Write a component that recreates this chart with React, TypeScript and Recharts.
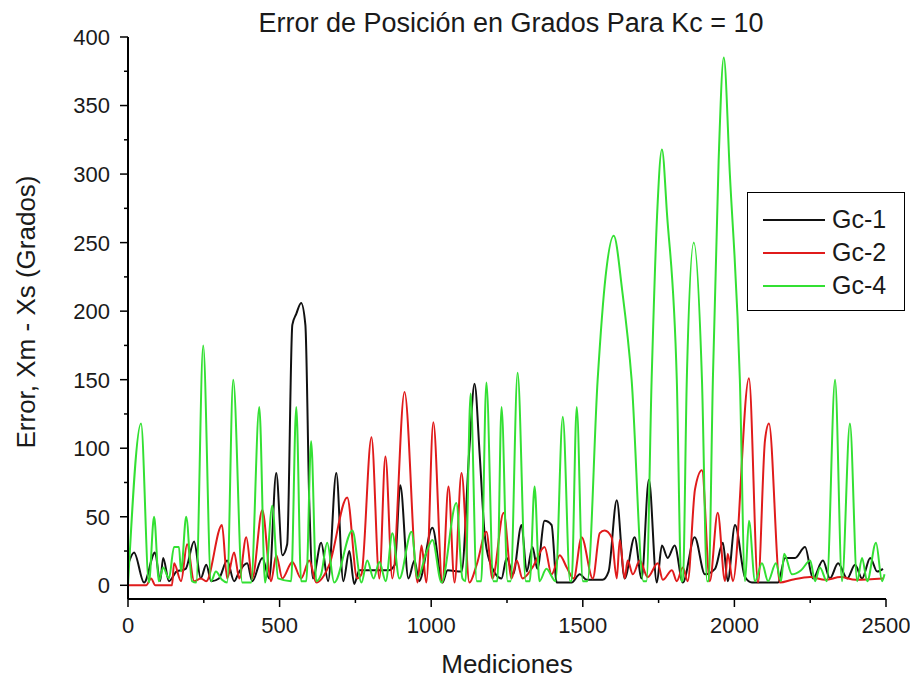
import { LineChart, Line, XAxis, YAxis, Legend, Label } from 'recharts'

// [medición, error en grados]
const gc1: [number, number][] = [
  [0, 15], [20, 24], [53, 2], [89, 24], [106, 3], [116, 20], [135, 3], [160, 10], [190, 12], [218, 32],
  [240, 5], [258, 15], [275, 3], [300, 5], [327, 18], [350, 3], [367, 10], [393, 16], [410, 3], [443, 20],
  [466, 5], [489, 82], [509, 22], [525, 30], [542, 190], [555, 198], [571, 206], [585, 190], [598, 60], [610, 5],
  [637, 31], [660, 3], [687, 82], [710, 3], [730, 25], [746, 1], [763, 11], [830, 11], [860, 11], [880, 15],
  [898, 73], [925, 5], [945, 18], [960, 3], [1004, 42], [1037, 2], [1054, 11], [1100, 10], [1126, 100], [1143, 147],
  [1160, 95], [1176, 38], [1192, 18], [1232, 5], [1249, 20], [1270, 8], [1298, 44], [1315, 10], [1334, 28], [1350, 12],
  [1374, 47], [1397, 44], [1414, 2], [1463, 2], [1490, 8], [1513, 4], [1565, 4], [1585, 10], [1612, 62], [1638, 5],
  [1671, 35], [1694, 5], [1718, 77], [1744, 2], [1761, 29], [1780, 20], [1803, 29], [1830, 2], [1869, 35], [1903, 8],
  [1936, 12], [1962, 31], [1978, 3], [2002, 44], [2035, 6], [2058, 2], [2144, 2], [2167, 20], [2200, 20], [2233, 28],
  [2259, 5], [2292, 18], [2315, 5], [2342, 16], [2372, 5], [2398, 15], [2421, 5], [2448, 20], [2471, 10], [2490, 12],
]

const gc2: [number, number][] = [
  [0, 0], [60, 0], [76, 5], [90, 0], [145, 0], [152, 16], [175, 3], [195, 30], [218, 3], [240, 5],
  [258, 3], [310, 44], [327, 5], [350, 24], [367, 5], [390, 35], [410, 5], [443, 55], [472, 3], [489, 22],
  [509, 5], [542, 17], [571, 5], [598, 18], [621, 2], [664, 15], [723, 64], [756, 5], [770, 8], [803, 108],
  [829, 5], [849, 94], [872, 5], [912, 141], [955, 2], [968, 29], [984, 2], [1007, 119], [1037, 2], [1057, 72],
  [1077, 2], [1100, 82], [1126, 2], [1150, 15], [1182, 39], [1202, 5], [1239, 53], [1265, 5], [1282, 18], [1301, 5],
  [1334, 13], [1374, 28], [1397, 8], [1424, 22], [1447, 13], [1470, 5], [1496, 35], [1533, 5], [1556, 38], [1572, 40],
  [1595, 35], [1612, 5], [1622, 33], [1638, 5], [1648, 18], [1665, 8], [1688, 18], [1714, 6], [1747, 16], [1764, 4],
  [1794, 11], [1810, 3], [1830, 13], [1846, 3], [1870, 70], [1893, 84], [1919, 3], [1945, 53], [1969, 3], [1978, 23],
  [1995, 3], [2048, 151], [2078, 2], [2101, 106], [2114, 118], [2150, 2], [2190, 4], [2250, 6], [2300, 4], [2350, 6],
  [2400, 4], [2490, 5],
]

const gc4: [number, number][] = [
  [0, 0], [43, 118], [69, 2], [86, 50], [102, 3], [116, 13], [135, 5], [152, 28], [168, 28], [175, 10],
  [192, 50], [211, 3], [225, 2], [248, 175], [274, 3], [290, 10], [310, 4], [327, 2], [347, 150], [377, 2],
  [406, 2], [433, 130], [452, 2], [476, 58], [495, 5], [538, 3], [555, 130], [571, 3], [588, 3], [604, 105],
  [621, 3], [637, 8], [657, 31], [680, 2], [740, 40], [770, 2], [789, 18], [810, 5], [829, 17], [850, 3],
  [872, 38], [895, 5], [935, 39], [955, 5], [984, 24], [1004, 33], [1034, 2], [1083, 60], [1103, 5], [1113, 3],
  [1130, 140], [1150, 3], [1165, 3], [1182, 148], [1205, 3], [1218, 3], [1232, 130], [1252, 3], [1262, 3], [1285, 155],
  [1312, 3], [1325, 3], [1341, 72], [1357, 3], [1380, 12], [1410, 3], [1434, 123], [1458, 3], [1463, 3], [1480, 130],
  [1500, 3], [1515, 3], [1549, 150], [1575, 225], [1602, 255], [1630, 215], [1661, 150], [1700, 3], [1710, 3], [1727, 150],
  [1745, 270], [1761, 318], [1778, 270], [1810, 150], [1825, 3], [1830, 3], [1843, 150], [1866, 250], [1893, 150], [1910, 3],
  [1915, 3], [1929, 150], [1948, 310], [1965, 385], [1985, 300], [2018, 150], [2035, 3], [2048, 47], [2068, 3], [2091, 16],
  [2111, 3], [2137, 16], [2154, 3], [2164, 23], [2190, 8], [2220, 11], [2250, 18], [2266, 3], [2282, 13], [2305, 3],
  [2332, 150], [2355, 3], [2381, 118], [2405, 3], [2421, 20], [2438, 3], [2467, 31], [2487, 3], [2495, 8],
]

const xTicks = [0, 250, 500, 750, 1000, 1250, 1500, 1750, 2000, 2250, 2500]
const yTicks = [0, 25, 50, 75, 100, 125, 150, 175, 200, 225, 250, 275, 300, 325, 350, 375, 400]

const FONT = '"Liberation Sans", Arial, sans-serif'
const TICK_SIZE = 8
const TICK_MARGIN = 10
const INK = '#1a1a1a'

const toPoints = (rows: [number, number][]) => rows.map(([x, y]) => ({ x, y }))

function YTick(props: any) {
  const { x, y, payload } = props
  const axisX = x + TICK_SIZE + TICK_MARGIN
  const major = payload.value % 50 === 0
  return (
    <g>
      <line x1={axisX - (major ? 8 : 4)} x2={axisX} y1={y} y2={y} stroke="#000" strokeWidth={1.5} />
      {major && (
        <text x={x} y={y} dy="0.36em" textAnchor="end" fontSize={22} fontFamily={FONT} fill={INK}>
          {payload.value}
        </text>
      )}
    </g>
  )
}

function XTick(props: any) {
  const { x, y, payload } = props
  const axisY = y - TICK_SIZE - TICK_MARGIN
  const major = payload.value % 500 === 0
  return (
    <g>
      <line x1={x} x2={x} y1={axisY} y2={axisY + (major ? 8 : 4)} stroke="#000" strokeWidth={1.5} />
      {major && (
        <text x={x} y={axisY + 34} textAnchor="middle" fontSize={22} fontFamily={FONT} fill={INK}>
          {payload.value}
        </text>
      )}
    </g>
  )
}

function LegendBox(props: any) {
  const { payload } = props
  return (
    <div
      style={{
        width: 158,
        height: 119,
        boxSizing: 'border-box',
        border: '1.5px solid #000',
        background: '#fff',
        paddingTop: 10,
        fontFamily: FONT,
      }}
    >
      {payload.map((entry: any) => (
        <div key={entry.value} style={{ display: 'flex', alignItems: 'center', height: 33 }}>
          <svg width={62} height={4} style={{ marginLeft: 15, marginRight: 7 }}>
            <line x1={0} x2={62} y1={2} y2={2} stroke={entry.color} strokeWidth={2} />
          </svg>
          <span style={{ fontSize: 25, color: INK }}>{entry.value}</span>
        </div>
      ))}
    </div>
  )
}

export default function App() {
  return (
    <div style={{ position: 'absolute', left: 0, top: 0, width: 910, height: 684, background: '#fff', fontFamily: FONT }}>
      <div
        style={{
          position: 'absolute',
          left: 511,
          top: 8,
          transform: 'translateX(-50%)',
          whiteSpace: 'nowrap',
          fontSize: 27,
          lineHeight: '30px',
          color: INK,
        }}
      >
        Error de Posición en Grados Para Kc = 10
      </div>
      <LineChart width={910} height={684} margin={{ top: 37, right: 24, bottom: 45, left: 58 }}>
        <XAxis
          type="number"
          dataKey="x"
          domain={[0, 2500]}
          ticks={xTicks}
          interval={0}
          height={40}
          tickSize={TICK_SIZE}
          tickMargin={TICK_MARGIN}
          tickLine={false}
          tick={<XTick />}
          axisLine={{ stroke: '#000', strokeWidth: 2 }}
          allowDataOverflow
        >
          <Label
            content={({ viewBox }: any) => (
              <text
                x={viewBox.x + viewBox.width / 2}
                y={viewBox.y + 74}
                textAnchor="middle"
                fontSize={26}
                fontFamily={FONT}
                fill={INK}
              >
                Mediciones
              </text>
            )}
          />
        </XAxis>
        <YAxis
          type="number"
          domain={[-10, 400]}
          ticks={yTicks}
          interval={0}
          width={70}
          tickSize={TICK_SIZE}
          tickMargin={TICK_MARGIN}
          tickLine={false}
          tick={<YTick />}
          axisLine={{ stroke: '#000', strokeWidth: 2 }}
          allowDataOverflow
        >
          <Label
            content={({ viewBox }: any) => {
              const cx = viewBox.x - 32
              const cy = viewBox.y + viewBox.height / 2 - 6
              return (
                <text
                  x={cx}
                  y={cy}
                  transform={`rotate(-90, ${cx}, ${cy})`}
                  textAnchor="middle"
                  dominantBaseline="central"
                  fontSize={26}
                  fontFamily={FONT}
                  fill={INK}
                >
                  Error, Xm - Xs (Grados)
                </text>
              )
            }}
          />
        </YAxis>
        <Legend
          layout="vertical"
          align="center"
          verticalAlign="middle"
          wrapperStyle={{ left: 747, top: 192, width: 158, height: 119 }}
          content={<LegendBox />}
        />
        <Line
          data={toPoints(gc1)}
          dataKey="y"
          name="Gc-1"
          type="monotone"
          stroke="#111111"
          strokeWidth={2}
          dot={false}
          isAnimationActive={false}
        />
        <Line
          data={toPoints(gc2)}
          dataKey="y"
          name="Gc-2"
          type="monotone"
          stroke="#e01b1b"
          strokeWidth={2}
          dot={false}
          isAnimationActive={false}
        />
        <Line
          data={toPoints(gc4)}
          dataKey="y"
          name="Gc-4"
          type="monotone"
          stroke="#33e033"
          strokeWidth={2}
          dot={false}
          isAnimationActive={false}
        />
      </LineChart>
    </div>
  )
}
